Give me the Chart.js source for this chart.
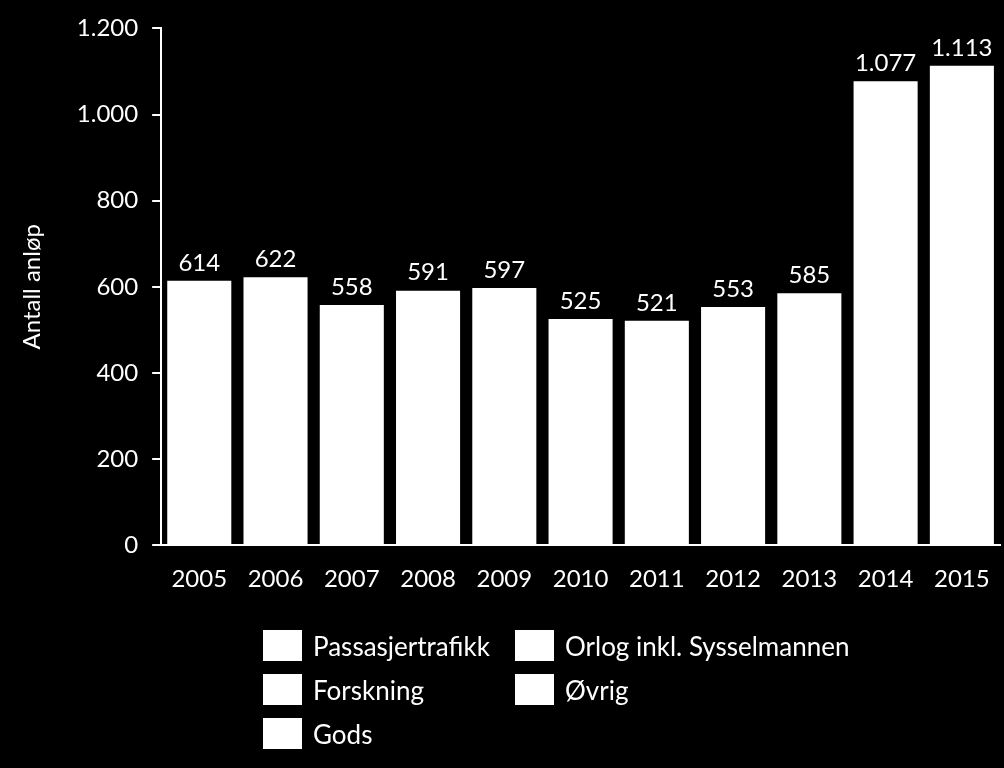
<!DOCTYPE html>
<html>
<head>
<meta charset="utf-8">
<script src="https://cdn.jsdelivr.net/npm/chart.js@4.4.1/dist/chart.umd.min.js"></script>
<style>
  html, body { margin: 0; padding: 0; background: #000; }
  #wrap { position: relative; width: 1004px; height: 768px; background: #000; }
  #legend { position: absolute; left: 263px; top: 630px; display: grid;
    grid-template-columns: 252px 380px; row-gap: 13px; font-family: Lato, "Open Sans", sans-serif;
    font-size: 26px; color: #fff; white-space: nowrap; }
  .item { display: flex; align-items: center; height: 31px; }
  .box { width: 39px; height: 31px; background: #fff; margin-right: 11px; flex: none; }
</style>
</head>
<body>
<div id="wrap">
  <canvas id="c" width="1004" height="768"></canvas>
  <div id="legend"></div>
</div>
<script>
const years = ["2005","2006","2007","2008","2009","2010","2011","2012","2013","2014","2015"];
const totals = [614, 622, 558, 591, 597, 525, 521, 553, 585, 1077, 1113];
const seriesNames = ["Passasjertrafikk", "Orlog inkl. Sysselmannen", "Forskning", "Øvrig", "Gods"];
const yTicks = [0, 200, 400, 600, 800, 1000, 1200];
const yTitle = "Antall anløp";

const fmt = v => v.toString().replace(/\B(?=(\d{3})+(?!\d))/g, ".");

const legend = document.getElementById('legend');
seriesNames.forEach(n => {
  const d = document.createElement('div');
  d.className = 'item';
  d.innerHTML = '<span class="box"></span><span></span>';
  d.lastChild.textContent = n;
  legend.appendChild(d);
});

const valueLabels = {
  id: 'valueLabels',
  afterDatasetsDraw(chart) {
    const ctx = chart.ctx;
    const meta = chart.getDatasetMeta(0);
    ctx.save();
    ctx.fillStyle = '#fff';
    ctx.font = '24px Lato, "Open Sans", sans-serif';
    ctx.textAlign = 'center';
    ctx.textBaseline = 'bottom';
    meta.data.forEach((bar, i) => {
      ctx.fillText(fmt(totals[i]), bar.x, bar.y - 6);
    });
    ctx.restore();
  }
};

Chart.defaults.font.family = 'Lato, "Open Sans", sans-serif';
Chart.defaults.color = '#fff';

new Chart(document.getElementById('c'), {
  type: 'bar',
  data: {
    labels: years,
    datasets: [{
      label: 'Totalt',
      data: totals,
      backgroundColor: '#fff',
      borderWidth: 0,
      barPercentage: 0.84,
      categoryPercentage: 1.0
    }]
  },
  options: {
    responsive: false,
    animation: false,
    layout: { padding: { left: 14, right: 4, top: 13, bottom: 162 } },
    plugins: { legend: { display: false }, tooltip: { enabled: false } },
    scales: {
      x: {
        grid: { display: false },
        border: { display: true, color: '#fff', width: 2 },
        ticks: { font: { size: 24 }, color: '#fff', padding: 12, maxRotation: 0 }
      },
      y: {
        min: 0, max: 1200,
        afterBuildTicks: axis => { axis.ticks = yTicks.map(v => ({ value: v })); },
        grid: { display: true, drawOnChartArea: false, drawTicks: true, tickLength: 9, color: '#fff', lineWidth: 2 },
        border: { display: true, color: '#fff', width: 2 },
        ticks: { font: { size: 24 }, color: '#fff', padding: 14, callback: v => fmt(v) },
        title: { display: true, text: yTitle, font: { size: 24 }, color: '#fff', padding: { bottom: 16 } }
      }
    }
  },
  plugins: [valueLabels]
});
</script>
</body>
</html>
